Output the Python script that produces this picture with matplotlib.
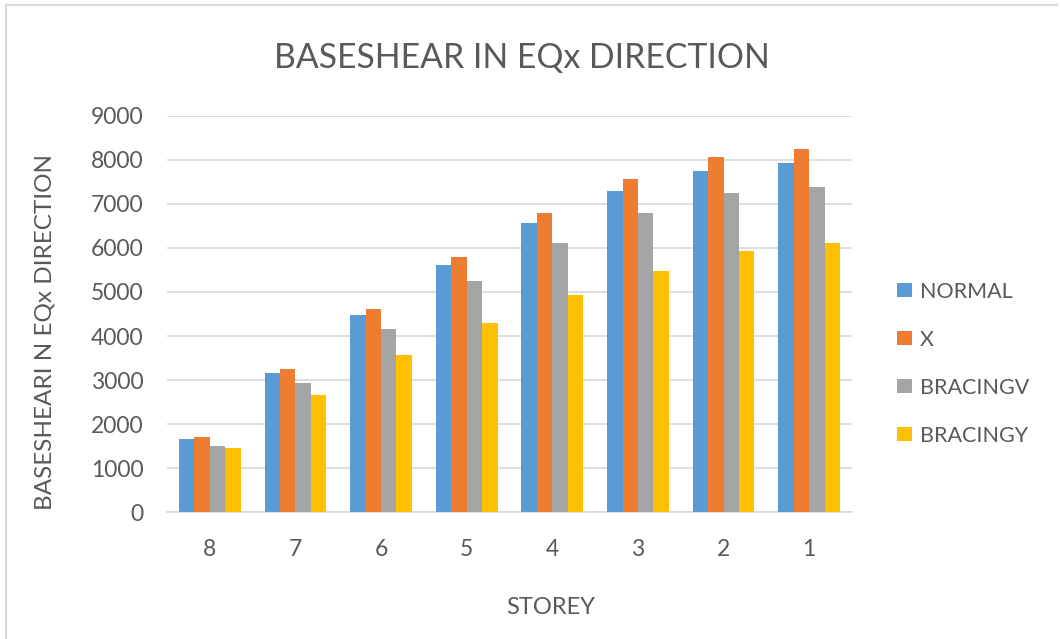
import matplotlib
matplotlib.use("Agg")
import matplotlib.pyplot as plt
import numpy as np
from matplotlib.lines import Line2D

plt.rcParams['font.family'] = ['Lato', 'DejaVu Sans']

storeys = ["8", "7", "6", "5", "4", "3", "2", "1"]
normal = [1655, 3155, 4470, 5613, 6558, 7292, 7746, 7927]
x_brace = [1700, 3245, 4607, 5794, 6785, 7557, 8056, 8245]
bracing_v = [1513, 2927, 4153, 5242, 6104, 6785, 7239, 7375]
bracing_y = [1467, 2655, 3563, 4289, 4924, 5469, 5923, 6104]
series_names = ["NORMAL", "X", "BRACINGV", "BRACINGY"]
colors = ["#5B9BD5", "#ED7D31", "#A5A5A5", "#FFC000"]

W, H = 1060, 639
fig = plt.figure(figsize=(W / 100, H / 100), dpi=100)
ax = fig.add_axes([167 / W, 1 - 512.3 / H, (852 - 167) / W, (512.3 - 115.7) / H])

x = np.arange(len(storeys))
w = 0.18
series = [normal, x_brace, bracing_v, bracing_y]
handles = []
for i, (vals, c, name) in enumerate(zip(series, colors, series_names)):
    b = ax.bar(x + (i - 1.5) * w, vals, width=w, color=c, label=name, zorder=3)
    handles.append(b)

ax.set_xlim(-0.5, len(storeys) - 0.5)
ax.set_ylim(0, 9000)
ax.set_yticks(np.arange(0, 9001, 1000))
ax.set_xticks(x)
ax.set_xticklabels(storeys)
ax.yaxis.grid(True, color="#D9D9D9", linewidth=1.2, zorder=0)
ax.set_axisbelow(True)
for s in ["top", "right", "left"]:
    ax.spines[s].set_visible(False)
ax.spines["bottom"].set_color("#D9D9D9")
ax.spines["bottom"].set_linewidth(1.2)
ax.tick_params(axis="both", length=0, colors="#595959", labelsize=16.5)
ax.tick_params(axis="y", pad=17)
ax.tick_params(axis="x", pad=19)

fig.text(551 / W, 1 - 608 / H, "STOREY", fontsize=17, color="#595959",
         ha="center", va="center")
fig.text(45 / W, 1 - 331.5 / H, "BASESHEARI N EQx DIRECTION", fontsize=17.5,
         color="#595959", ha="center", va="center", rotation=90)

fig.text(521.5 / W, 1 - 58 / H, "BASESHEAR IN EQx DIRECTION", fontsize=24.3,
         color="#595959", ha="center", va="center")

leg = fig.legend(handles=handles, labels=series_names, loc="center left",
                 bbox_to_anchor=(897 / W, 1 - 364 / H), frameon=False, borderpad=0,
                 borderaxespad=0, fontsize=15.5, labelspacing=1.3,
                 handlelength=0.68, handleheight=0.62,
                 handletextpad=0.4, labelcolor="#595959")

# chart border
fig.add_artist(Line2D([6 / W, 6 / W], [0, 1 - 5 / H], color="#D9D9D9", lw=1.5))
fig.add_artist(Line2D([6 / W, 1057 / W], [1 - 5 / H, 1 - 5 / H], color="#D9D9D9", lw=1.5))

fig.savefig("out.png", dpi=100)
